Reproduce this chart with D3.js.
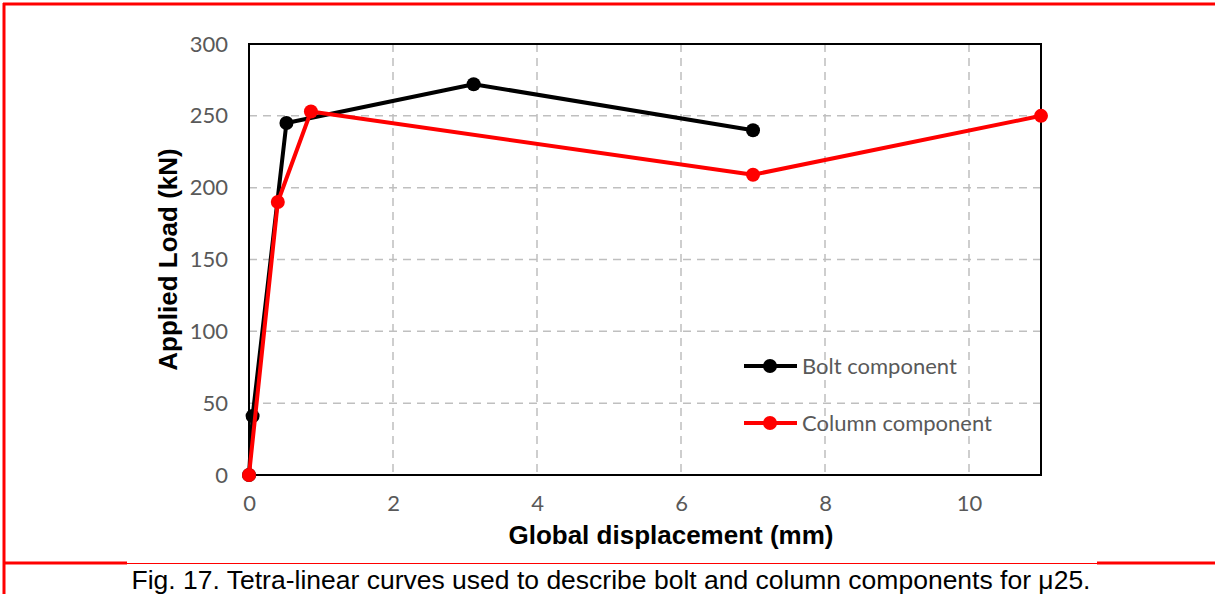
<!DOCTYPE html>
<html lang="en">
<head>
    <meta charset="UTF-8">
    <title>Tetra-linear curves</title>
    <script src="https://d3js.org/d3.v7.min.js"></script>
    <style>
        body { margin: 0; background: #fff; }
        svg { display: block; }
        .tick text { fill: #595959; font-family: Lato, "Open Sans", sans-serif; font-size: 22px; }
        .grid line { stroke: #bfbfbf; stroke-width: 1.5; stroke-dasharray: 8 6; }
        .title { font-family: "Liberation Sans", Arial, sans-serif; font-weight: bold; font-size: 26px; fill: #000; }
        .legend text { fill: #595959; font-family: Lato, "Open Sans", sans-serif; font-size: 22px; }
        .caption { font-family: "Liberation Sans", Arial, sans-serif; font-size: 26.5px; fill: #000; }
    </style>
</head>
<body>
<svg id="chart" width="1215" height="594"></svg>
<script>
    // data
    const boltX = [0, 0.05, 0.52, 3.12, 7.0];
    const boltY = [0, 41, 245, 272, 240];
    const columnX = [0, 0.4, 0.86, 7.0, 11.0];
    const columnY = [0, 190, 253, 209, 250];
    const xTicks = [0, 2, 4, 6, 8, 10];
    const yTicks = [0, 50, 100, 150, 200, 250, 300];
    const seriesNames = ["Bolt component", "Column component"];
    const seriesColors = ["#000000", "#ff0000"];

    const svg = d3.select("#chart");
    const plotLeft = 249, plotRight = 1041, plotTop = 44, plotBottom = 475;

    const x = d3.scaleLinear().domain([0, 11]).range([plotLeft, plotRight]);
    const y = d3.scaleLinear().domain([0, 300]).range([plotBottom, plotTop]);

    // red frame around the figure
    svg.append("line").attr("x1", 3).attr("x2", 1215).attr("y1", 4).attr("y2", 4)
        .attr("stroke", "#ff0000").attr("stroke-width", 3);
    svg.append("line").attr("x1", 4).attr("x2", 4).attr("y1", 3).attr("y2", 594)
        .attr("stroke", "#ff0000").attr("stroke-width", 3);
    svg.append("line").attr("x1", 3).attr("x2", 127).attr("y1", 563).attr("y2", 563)
        .attr("stroke", "#ff0000").attr("stroke-width", 3);
    svg.append("line").attr("x1", 127).attr("x2", 1097).attr("y1", 563.5).attr("y2", 563.5)
        .attr("stroke", "#ff0000").attr("stroke-width", 1);
    svg.append("line").attr("x1", 1097).attr("x2", 1215).attr("y1", 563).attr("y2", 563)
        .attr("stroke", "#ff0000").attr("stroke-width", 3);

    // gridlines
    svg.append("g").attr("class", "grid")
        .selectAll("line").data(xTicks.filter(d => d > 0)).join("line")
        .attr("x1", d => x(d)).attr("x2", d => x(d))
        .attr("y1", plotTop).attr("y2", plotBottom);
    svg.append("g").attr("class", "grid")
        .selectAll("line").data(yTicks.filter(d => d > 0 && d < 300)).join("line")
        .attr("x1", plotLeft).attr("x2", plotRight)
        .attr("y1", d => y(d)).attr("y2", d => y(d));

    // plot border
    svg.append("rect").attr("x", plotLeft).attr("y", plotTop)
        .attr("width", plotRight - plotLeft).attr("height", plotBottom - plotTop)
        .attr("fill", "none").attr("stroke", "#000").attr("stroke-width", 2);

    // axes (labels only)
    const xAxis = svg.append("g").attr("transform", `translate(0,${plotBottom})`)
        .call(d3.axisBottom(x).tickValues(xTicks).tickSize(0).tickPadding(20));
    xAxis.select(".domain").remove();
    const yAxis = svg.append("g").attr("transform", `translate(${plotLeft},0)`)
        .call(d3.axisLeft(y).tickValues(yTicks).tickSize(0).tickPadding(21));
    yAxis.select(".domain").remove();

    svg.append("text").attr("class", "title")
        .attr("x", 671).attr("y", 544).attr("text-anchor", "middle")
        .text("Global displacement (mm)");
    svg.append("text").attr("class", "title")
        .attr("transform", `translate(177,${(plotTop + plotBottom) / 2}) rotate(-90)`)
        .attr("text-anchor", "middle")
        .text("Applied Load (kN)");

    // series
    const series = [
        boltX.map((d, i) => [d, boltY[i]]),
        columnX.map((d, i) => [d, columnY[i]])
    ];
    const line = d3.line().x(d => x(d[0])).y(d => y(d[1]));

    series.forEach((pts, i) => {
        svg.append("path").datum(pts)
            .attr("d", line).attr("fill", "none")
            .attr("stroke", seriesColors[i]).attr("stroke-width", 4)
            .attr("stroke-linejoin", "round");
        svg.append("g").selectAll("circle").data(pts).join("circle")
            .attr("cx", d => x(d[0])).attr("cy", d => y(d[1]))
            .attr("r", 7).attr("fill", seriesColors[i]);
    });

    // legend
    const legend = svg.append("g").attr("class", "legend");
    seriesNames.forEach((name, i) => {
        const ly = 366 + i * 57;
        legend.append("line").attr("x1", 744).attr("x2", 797)
            .attr("y1", ly).attr("y2", ly)
            .attr("stroke", seriesColors[i]).attr("stroke-width", 4);
        legend.append("circle").attr("cx", 770).attr("cy", ly).attr("r", 7)
            .attr("fill", seriesColors[i]);
        legend.append("text").attr("x", 802).attr("y", ly)
            .attr("dy", "0.35em").text(name);
    });

    // caption
    svg.append("text").attr("class", "caption")
        .attr("x", 611).attr("y", 589).attr("text-anchor", "middle")
        .text("Fig. 17. Tetra-linear curves used to describe bolt and column components for μ25.");
</script>
</body>
</html>
